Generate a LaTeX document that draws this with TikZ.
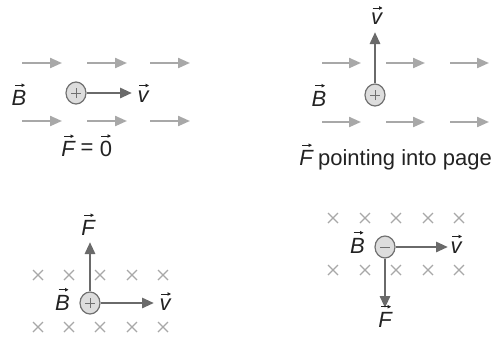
\documentclass[tikz,border=0pt]{standalone}
\usepackage{fontspec}
\setmainfont{Liberation Sans}
\usetikzlibrary{arrows.meta,shapes.geometric}
\definecolor{fieldgray}{HTML}{A8A8A8}
\definecolor{velgray}{HTML}{6A6A6A}
\definecolor{chargefill}{HTML}{DDDDDD}
\definecolor{chargeline}{HTML}{707070}
\definecolor{textcol}{HTML}{222222}
\begin{document}
\begin{tikzpicture}[x=1pt,y=-1pt,
  field/.style={draw=fieldgray, line width=2.2pt, -{Triangle[length=12pt,width=10pt]}},
  vel/.style={draw=velgray, line width=2.8pt, -{Triangle[length=12pt,width=10pt]}},
  charge/.style={ellipse, minimum width=20pt, minimum height=22pt, inner sep=0pt, fill=chargefill, draw=chargeline, line width=1.2pt},
  lab/.style={inner sep=0pt, text=textcol, font=\fontsize{22}{26}\selectfont},
  acc/.style={draw=textcol, line width=0.9pt, -{Triangle[length=3.5pt,width=3.5pt]}},
  xmark/.style={draw=fieldgray, line width=1.3pt}]
\useasboundingbox (0,0) rectangle (499,338);
\newcommand\xm[2]{\draw[xmark] (#1-5,#2-5) -- (#1+5,#2+5) (#1-5,#2+5) -- (#1+5,#2-5);}
\newcommand\plussign[1]{\draw[chargeline, line width=1pt] ([xshift=-5pt]#1.center) -- ([xshift=5pt]#1.center) ([yshift=-5pt]#1.center) -- ([yshift=5pt]#1.center);}
\newcommand\minussign[1]{\draw[chargeline, line width=1pt] ([xshift=-5pt]#1.center) -- ([xshift=5pt]#1.center);}
\newcommand\vecmark[1]{\draw[acc] ([xshift=-4pt,yshift=5pt]#1.north) -- ([xshift=6pt,yshift=5pt]#1.north);}
\newcommand\vecmarkup[1]{\draw[acc] ([xshift=-5pt,yshift=5pt]#1.north) -- ([xshift=5pt,yshift=5pt]#1.north);}
% Panel 1
\foreach \x in {22,87,150} {
  \draw[field] (\x,63) -- (\x+40,63);
  \draw[field] (\x,121) -- (\x+40,121);
}
\node[charge] (c1) at (76,93) {};
\plussign{c1}
\coordinate (v1end) at (132,93);
\draw[vel] (c1.east) -- (v1end);
\node[lab] (v1) at (143,96.5) {\itshape v};
\vecmark{v1}
\node[lab] (b1) at (19,98) {\itshape B};
\vecmark{b1}
\node[lab] (f1) at (68,149) {\itshape F};
\vecmark{f1}
\node[lab] (eq1) at (87,149) {=};
\node[lab] (z1) at (106,149) {0};
\vecmarkup{z1}
% Panel 2
\foreach \x in {322,386,450} {
  \draw[field] (\x,63) -- (\x+39,63);
  \draw[field] (\x,122) -- (\x+39,122);
}
\node[charge] (c2) at (375,95) {};
\plussign{c2}
\coordinate (v2end) at (375,32);
\draw[vel] (c2.north) -- (v2end);
\node[lab] (v2) at (376.5,19) {\itshape v};
\vecmark{v2}
\node[lab] (b2) at (319,98.5) {\itshape B};
\vecmark{b2}
\node[lab] (f2) at (306,158) {\itshape F};
\vecmark{f2}
\node[lab, anchor=base west] (p2) at ([xshift=5pt]f2.base east) {pointing into page};
% Panel 3
\foreach \x in {38,69,100,132,163} {
  \xm{\x}{275}
  \xm{\x}{327}
}
\node[charge] (c3) at (90,303) {};
\plussign{c3}
\coordinate (v3end) at (154,303);
\coordinate (f3end) at (90,242);
\draw[vel] (c3.east) -- (v3end);
\draw[vel] (c3.north) -- (f3end);
\node[lab] (v3) at (165,305) {\itshape v};
\vecmark{v3}
\node[lab] (f3) at (88,228) {\itshape F};
\vecmark{f3}
\node[lab] (b3) at (62.5,302.5) {\itshape B};
\vecmark{b3}
% Panel 4
\foreach \x in {333,365,396,428,459} {
  \xm{\x}{218}
  \xm{\x}{270}
}
\node[charge] (c4) at (385,247) {};
\minussign{c4}
\coordinate (v4end) at (448,247);
\coordinate (f4end) at (385,308);
\draw[vel] (c4.east) -- (v4end);
\draw[vel] (c4.south) -- (f4end);
\node[lab] (v4) at (456,247.5) {\itshape v};
\vecmark{v4}
\node[lab] (f4) at (385,319.5) {\itshape F};
\vecmark{f4}
\node[lab] (b4) at (357.5,245.5) {\itshape B};
\vecmark{b4}
\end{tikzpicture}
\end{document}
